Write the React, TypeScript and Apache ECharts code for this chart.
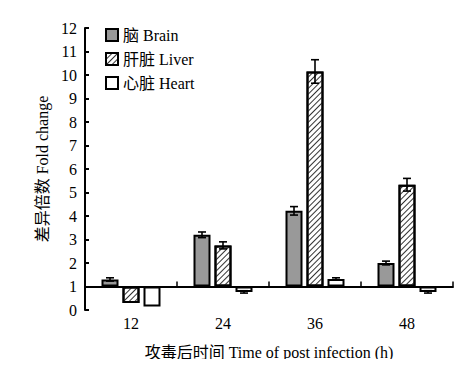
import React, { useEffect, useRef } from "react";
import * as echarts from "echarts";

const categories = ["12", "24", "36", "48"];
const seriesNames = ["脑 Brain", "肝脏 Liver", "心脏 Heart"];
const brain = [1.3, 3.2, 4.22, 2.0];
const liver = [0.3, 2.75, 10.15, 5.33];
const heart = [0.15, 0.77, 1.32, 0.77];
const brainErr = [0.07, 0.12, 0.18, 0.08];
const liverErr = [0, 0.15, 0.5, 0.27];
const heartErr = [0, 0.05, 0.05, 0.05];
const baseline = 1;
const yTicks = [0, 1, 2, 3, 4, 5, 6, 7, 8, 9, 10, 11, 12];

const FONT = "'Liberation Serif', 'Noto Sans CJK SC', serif";

export default function App() {
  const ref = useRef<HTMLDivElement>(null);
  useEffect(() => {
    if (!ref.current) return;
    const chart = echarts.init(ref.current, undefined, { renderer: "svg" });
    const values = [brain, liver, heart];
    const errs = [brainErr, liverErr, heartErr];
    const fills = ["#999999", "#ffffff", "#ffffff"];
    const barW = 17;
    const gap = 4;
    const offsets = [-(barW + gap), 0, barW + gap];

    const barSeries: any[] = values.map((vals, i) => ({
      name: seriesNames[i],
      type: "bar",
      barWidth: barW,
      barGap: (gap / barW) * 100 + "%",
      data: vals.map((v) => +(v - baseline).toFixed(3)),
      itemStyle: {
        color: fills[i],
        borderColor: "#000",
        borderWidth: 2,
        decal:
          i === 1
            ? {
                symbol: "rect",
                symbolSize: 1,
                dashArrayX: [[1, 0]],
                dashArrayY: [1, 2.5],
                rotation: -Math.PI / 4,
                color: "#333",
              }
            : undefined,
      },
      z: 2,
    }));

    const errSeries: any[] = values.map((vals, i) => ({
      type: "custom",
      name: "err" + i,
      z: 5,
      data: vals.map((v, k) => [k, v - baseline, errs[i][k]]),
      renderItem: (params: any, api: any) => {
        const k = api.value(0);
        const v = api.value(1);
        const e = api.value(2);
        if (!e) return { type: "group", children: [] };
        const top = api.coord([k, v + e]);
        const bot = api.coord([k, v - e]);
        const x = top[0] + offsets[i];
        const cap = 4;
        const style = { stroke: "#000", lineWidth: 1.6 };
        return {
          type: "group",
          children: [
            { type: "line", shape: { x1: x, y1: top[1], x2: x, y2: bot[1] }, style },
            { type: "line", shape: { x1: x - cap, y1: top[1], x2: x + cap, y2: top[1] }, style },
            { type: "line", shape: { x1: x - cap, y1: bot[1], x2: x + cap, y2: bot[1] }, style },
          ],
        };
      },
    }));

    // category boundary ticks on the baseline (x axis line at fold change 1)
    const tickSeries: any = {
      type: "custom",
      name: "ticks",
      z: 6,
      data: categories.map((c, k) => [k, 0]),
      renderItem: (params: any, api: any) => {
        const k = api.value(0);
        const p = api.coord([k, 0]);
        const w = api.size([1, 0])[0];
        const x = p[0] + w / 2;
        return {
          type: "line",
          shape: { x1: x, y1: p[1], x2: x, y2: p[1] - 5 },
          style: { stroke: "#000", lineWidth: 1.5 },
        };
      },
    };

    chart.setOption({
      animation: false,
      textStyle: { fontFamily: FONT },
      grid: { left: 85, right: 10, top: 28, bottom: 57, containLabel: false, outerBoundsMode: "none" },
      legend: {
        data: seriesNames,
        orient: "vertical",
        left: 105,
        top: 27,
        padding: 0,
        itemWidth: 12,
        itemHeight: 12,
        itemGap: 8,
        icon: "rect",
        textStyle: { fontFamily: FONT, fontSize: 16, color: "#000" },
      },
      xAxis: {
        type: "category",
        data: categories,
        axisLine: { onZero: true, lineStyle: { color: "#000", width: 2 } },
        axisTick: { show: false },
        axisLabel: { margin: 5, fontSize: 16, color: "#000", fontFamily: FONT },
        name: "攻毒后时间 Time of post infection (h)",
        nameLocation: "middle",
        nameGap: 34,
        nameTextStyle: { fontSize: 16, color: "#000", fontFamily: FONT },
      },
      yAxis: {
        type: "value",
        min: yTicks[0] - baseline,
        max: yTicks[yTicks.length - 1] - baseline,
        interval: 1,
        axisLine: { show: true, lineStyle: { color: "#000", width: 2 } },
        axisTick: { show: true, inside: true, length: 4, lineStyle: { color: "#000", width: 2 } },
        axisLabel: {
          fontSize: 16,
          color: "#000",
          margin: 8,
          fontFamily: FONT,
          formatter: (v: number) => String(Math.round(v + baseline)),
        },
        splitLine: { show: false },
        name: "差异倍数 Fold change",
        nameLocation: "middle",
        nameGap: 33,
        nameTextStyle: { fontSize: 16, color: "#000", fontFamily: FONT },
      },
      series: [...barSeries, ...errSeries, tickSeries],
    });
    return () => chart.dispose();
  }, []);
  return <div ref={ref} style={{ width: 463, height: 367, margin: -8 }} />;
}
